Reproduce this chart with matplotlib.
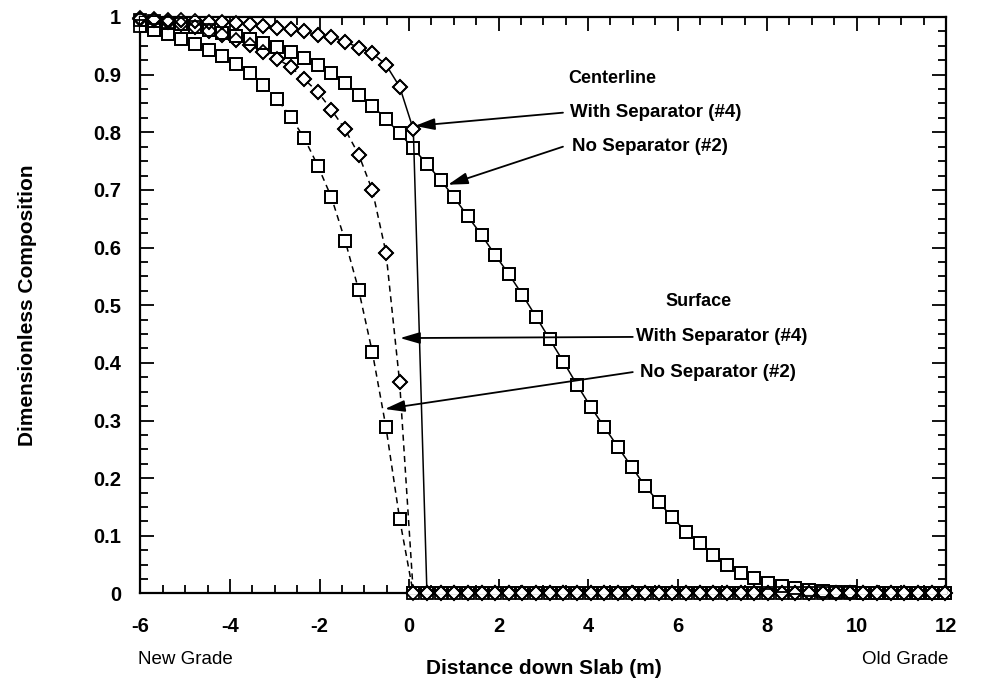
import matplotlib
matplotlib.use("Agg")
import matplotlib.pyplot as plt
from matplotlib.ticker import MultipleLocator

plt.rcParams['font.family'] = ['Liberation Sans', 'DejaVu Sans']

# positions down the slab (m), one node every 0.3048 m
distance = [-6.000, -5.695, -5.390, -5.086, -4.781, -4.476, -4.171, -3.866, -3.562, -3.257,
            -2.952, -2.647, -2.342, -2.038, -1.733, -1.428, -1.123, -0.818, -0.514, -0.209,
            0.096, 0.401, 0.706, 1.010, 1.315, 1.620, 1.925, 2.230, 2.534, 2.839,
            3.144, 3.449, 3.754, 4.058, 4.363, 4.668, 4.973, 5.278, 5.582, 5.887,
            6.192, 6.497, 6.802, 7.106, 7.411, 7.716, 8.021, 8.326, 8.630, 8.935,
            9.240, 9.545, 9.850, 10.154, 10.459, 10.764, 11.069, 11.374, 11.678, 11.983]

# centerline, with separator (#4)
center_sep = [0.998, 0.996, 0.995, 0.994, 0.993, 0.992, 0.991, 0.989, 0.987, 0.984,
              0.981, 0.979, 0.975, 0.969, 0.966, 0.957, 0.947, 0.937, 0.917, 0.879,
              0.805, 0.0, 0.0, 0.0, 0.0, 0.0, 0.0, 0.0, 0.0, 0.0,
              0.0, 0.0, 0.0, 0.0, 0.0, 0.0, 0.0, 0.0, 0.0, 0.0,
              0.0, 0.0, 0.0, 0.0, 0.0, 0.0, 0.0, 0.0, 0.0, 0.0,
              0.0, 0.0, 0.0, 0.0, 0.0, 0.0, 0.0, 0.0, 0.0, 0.0]

# centerline, no separator (#2)
center_nosep = [0.995, 0.993, 0.990, 0.987, 0.983, 0.978, 0.973, 0.967, 0.961, 0.955,
                0.948, 0.940, 0.928, 0.917, 0.902, 0.886, 0.865, 0.846, 0.823, 0.798,
                0.772, 0.745, 0.717, 0.687, 0.654, 0.622, 0.587, 0.554, 0.518, 0.480,
                0.441, 0.402, 0.362, 0.324, 0.289, 0.254, 0.220, 0.186, 0.158, 0.132,
                0.107, 0.088, 0.067, 0.050, 0.036, 0.026, 0.019, 0.013, 0.009, 0.006,
                0.004, 0.003, 0.002, 0.001, 0.001, 0.0, 0.0, 0.0, 0.0, 0.0]

# surface, with separator (#4)
surface_sep = [0.997, 0.995, 0.992, 0.988, 0.983, 0.976, 0.968, 0.960, 0.951, 0.940,
               0.927, 0.914, 0.892, 0.870, 0.839, 0.805, 0.761, 0.699, 0.591, 0.366,
               0.0, 0.0, 0.0, 0.0, 0.0, 0.0, 0.0, 0.0, 0.0, 0.0,
               0.0, 0.0, 0.0, 0.0, 0.0, 0.0, 0.0, 0.0, 0.0, 0.0,
               0.0, 0.0, 0.0, 0.0, 0.0, 0.0, 0.0, 0.0, 0.0, 0.0,
               0.0, 0.0, 0.0, 0.0, 0.0, 0.0, 0.0, 0.0, 0.0, 0.0]

# surface, no separator (#2)
surface_nosep = [0.985, 0.978, 0.970, 0.962, 0.953, 0.943, 0.932, 0.918, 0.902, 0.882,
                 0.858, 0.827, 0.790, 0.742, 0.687, 0.612, 0.526, 0.418, 0.288, 0.129,
                 0.0, 0.0, 0.0, 0.0, 0.0, 0.0, 0.0, 0.0, 0.0, 0.0,
                 0.0, 0.0, 0.0, 0.0, 0.0, 0.0, 0.0, 0.0, 0.0, 0.0,
                 0.0, 0.0, 0.0, 0.0, 0.0, 0.0, 0.0, 0.0, 0.0, 0.0,
                 0.0, 0.0, 0.0, 0.0, 0.0, 0.0, 0.0, 0.0, 0.0, 0.0]

series = [
    (surface_nosep, 's', (0, (4, 3))),
    (surface_sep, 'D', (0, (4, 3))),
    (center_nosep, 's', '-'),
    (center_sep, 'D', '-'),
]

fig = plt.figure(figsize=(9.95, 6.9), dpi=100)
ax = fig.add_axes([0.1412, 0.1399, 0.8096, 0.8355])

# lines with white filled markers so the line stops at each marker
for vals, mk, ls in series:
    ms = 9 if mk == 's' else 7.5
    ax.plot(distance, vals, color='black', lw=1.1, ls=ls, marker=mk, ms=ms,
            mfc='white', mec='black', mew=1.3, zorder=3)
# outlines again on top, so markers piled on the zero row all show
for vals, mk, ls in series:
    ms = 9 if mk == 's' else 7.5
    ax.plot(distance, vals, ls='none', marker=mk, ms=ms, mfc='none',
            mec='black', mew=1.3, zorder=4, clip_on=False)

ax.set_xlim(-6, 12)
ax.set_ylim(0, 1)
ax.xaxis.set_major_locator(MultipleLocator(2))
ax.xaxis.set_minor_locator(MultipleLocator(0.5))
ax.yaxis.set_major_locator(MultipleLocator(0.1))
ax.yaxis.set_minor_locator(MultipleLocator(0.025))
ax.set_xticks([-6, -4, -2, 0, 2, 4, 6, 8, 10, 12])
ax.set_xticklabels(['-6', '-4', '-2', '0', '2', '4', '6', '8', '10', '12'])
ax.set_yticks([0, 0.1, 0.2, 0.3, 0.4, 0.5, 0.6, 0.7, 0.8, 0.9, 1])
ax.set_yticklabels(['0', '0.1', '0.2', '0.3', '0.4', '0.5', '0.6', '0.7', '0.8', '0.9', '1'])
ax.tick_params(which='both', direction='in', top=True, right=True, width=1.3)
ax.tick_params(which='major', length=10)
ax.tick_params(which='minor', length=6)
ax.tick_params(axis='x', which='major', pad=17, labelsize=14.5)
ax.tick_params(axis='y', which='major', pad=14, labelsize=14.5)
for lab in ax.get_xticklabels() + ax.get_yticklabels():
    lab.set_fontweight('bold')
for sp in ax.spines.values():
    sp.set_linewidth(1.6)

ax.set_ylabel('Dimensionless Composition', fontsize=15, fontweight='bold')
ax.yaxis.set_label_coords(-0.128, 0.5)
fig.text(0.547, 1 - 668 / 690, 'Distance down Slab (m)', ha='center', va='center',
         fontsize=15, fontweight='bold')
fig.text(185 / 995, 1 - 660 / 690, 'New Grade', ha='center', va='center', fontsize=13.5)
fig.text(905 / 995, 1 - 660 / 690, 'Old Grade', ha='center', va='center', fontsize=13.5)

# annotations
arrow = dict(arrowstyle='-|>,head_length=1.2,head_width=0.35', color='black', lw=1.3,
             shrinkA=0, shrinkB=0)
ax.text(4.54, 0.894, 'Centerline', ha='center', va='center', fontsize=13, fontweight='bold')
ax.text(6.46, 0.506, 'Surface', ha='center', va='center', fontsize=13, fontweight='bold')

ax.annotate('', xy=(0.13, 0.811), xytext=(3.44, 0.834), arrowprops=arrow, zorder=5)
ax.text(3.6, 0.834, 'With Separator (#4)', ha='left', va='center', fontsize=13.5, fontweight='bold')
ax.annotate('', xy=(0.87, 0.709), xytext=(3.44, 0.775), arrowprops=arrow, zorder=5)
ax.text(3.64, 0.775, 'No Separator (#2)', ha='left', va='center', fontsize=13.5, fontweight='bold')

ax.annotate('', xy=(-0.2, 0.443), xytext=(5.0, 0.445), arrowprops=arrow, zorder=5)
ax.text(5.07, 0.445, 'With Separator (#4)', ha='left', va='center', fontsize=13.5, fontweight='bold')
ax.annotate('', xy=(-0.54, 0.32), xytext=(5.0, 0.384), arrowprops=arrow, zorder=5)
ax.text(5.16, 0.384, 'No Separator (#2)', ha='left', va='center', fontsize=13.5, fontweight='bold')

plt.savefig('out.png', dpi=100)
